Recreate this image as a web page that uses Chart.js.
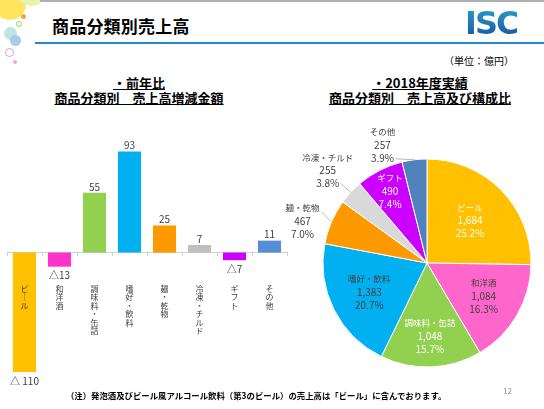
<!DOCTYPE html>
<html>
<head>
<meta charset="utf-8">
<script src="https://cdn.jsdelivr.net/npm/chart.js@4.4.0/dist/chart.umd.min.js"></script>
<style>
body { margin: 0; width: 544px; height: 409px; position: relative; overflow: hidden; background: #fff; font-family: "Noto Sans CJK JP", sans-serif; color: #000; }
.abs { position: absolute; }
.dot { position: absolute; border-radius: 50%; }
.topline { left: 40px; top: 0; width: 504px; height: 2px; background: #b0b0b0; }
.blueline { left: 35px; top: 42px; width: 509px; height: 2px; background: #1e88d4; }
.title { left: 52px; top: 13px; font-size: 17px; font-weight: bold; letter-spacing: 0.2px; }
.logo { left: 465px; top: 4px; font-family: "DejaVu Sans", sans-serif; font-size: 32px; font-weight: bold; letter-spacing: -2px;
  background: linear-gradient(#27a7c9, #1a4b9c); -webkit-background-clip: text; background-clip: text; color: transparent; }
.unit { left: 444px; top: 53px; font-size: 10px; }
.sub { font-size: 13px; font-weight: bold; text-align: center; line-height: 15px; text-decoration: underline; white-space: pre; }
.note { left: 66px; top: 389px; font-size: 8.4px; font-weight: bold; white-space: nowrap; }
.page { left: 503px; top: 385px; font-size: 8px; color: #8a8a8a; }
canvas { position: absolute; }
</style>
</head>
<body>
<div class="dot" style="left:-6px;top:-12px;width:32px;height:32px;background:#ffe14d;opacity:0.9"></div>
<div class="dot" style="left:18px;top:-14px;width:26px;height:20px;background:#e6f3a8"></div>
<div class="dot" style="left:21px;top:14px;width:5px;height:5px;background:#f6a93b"></div>
<div class="dot" style="left:16px;top:21px;width:4px;height:4px;border:1px solid #9bd06a"></div>
<div class="dot" style="left:4px;top:27px;width:13px;height:13px;background:#bfe6e2"></div>
<div class="dot" style="left:10px;top:35px;width:11px;height:11px;background:#a9c9ef"></div>
<div class="dot" style="left:5px;top:48px;width:7px;height:7px;border:1px solid #c6a9e6"></div>
<div class="dot" style="left:13px;top:60px;width:4px;height:4px;background:#f2a6d0"></div>
<div class="abs topline"></div>
<div class="abs title">商品分類別売上高</div>
<div class="abs logo">ISC</div>
<div class="abs blueline"></div>
<div class="abs unit">（単位：億円）</div>

<div class="abs sub" style="left:36px;top:75px;width:206px">・前年比
商品分類別　売上高増減金額</div>
<div class="abs sub" style="left:316px;top:75px;width:208px">・2018年度実績
商品分類別　売上高及び構成比</div>

<canvas id="barChart" width="292" height="300" style="left:0;top:100px"></canvas>
<canvas id="pieChart" width="274" height="270" style="left:270px;top:110px"></canvas>

<div class="abs note">（注）発泡酒及びビール風アルコール飲料（第3のビール）の売上高は「ビール」に含んでおります。</div>
<div class="abs page">12</div>

<script>
// 商品分類
const categories = ['ビール', '和洋酒', '調味料・缶詰', '嗜好・飲料', '麺・乾物', '冷凍・チルド', 'ギフト', 'その他'];
// 前年比 増減金額（億円）
const changeValues = [-110, -13, 55, 93, 25, 7, -7, 11];
// 2018年度 売上高（億円）
const salesValues = [1684, 1084, 1048, 1383, 467, 255, 490, 257];
// 構成比
const shareLabels = ['25.2%', '16.3%', '15.7%', '20.7%', '7.0%', '3.8%', '7.4%', '3.9%'];

const barColors = ['#ffc000', '#ff33cc', '#92d050', '#00b0f0', '#ff9900', '#bfbfbf', '#cc00ff', '#558ed5'];
const pieColors = ['#ffc000', '#ff66cc', '#92d050', '#00b0f0', '#ff9900', '#d9d9d9', '#cc00ff', '#4f81bd'];

const jpFont = '"Noto Sans CJK JP", sans-serif';

// 縦書きラベル（1文字ずつ改行）
function toVertical(name) {
    return name.split('').map(c => c === 'ー' ? '｜' : c);
}

function fmtChange(v) {
    if (v >= 0) return String(v);
    return (v <= -100 ? '△ ' : '△') + Math.abs(v);
}

const barLabels = {
    id: 'barLabels',
    afterDatasetsDraw(chart) {
        const ctx = chart.ctx;
        const meta = chart.getDatasetMeta(0);
        ctx.save();
        ctx.font = '10px ' + jpFont;
        ctx.fillStyle = '#404040';
        ctx.textAlign = 'center';
        ctx.textBaseline = 'middle';
        meta.data.forEach((bar, i) => {
            const v = changeValues[i];
            const y = v >= 0 ? bar.y - 6 : bar.y + 9;
            ctx.fillText(fmtChange(v), bar.x, y);
        });
        ctx.restore();
    }
};

new Chart(document.getElementById('barChart').getContext('2d'), {
    type: 'bar',
    data: {
        labels: categories.map(toVertical),
        datasets: [{
            data: changeValues,
            backgroundColor: barColors,
            borderWidth: 0,
            categoryPercentage: 1,
            barPercentage: 0.66
        }]
    },
    options: {
        responsive: false,
        animation: false,
        events: [],
        layout: { padding: { left: 7, right: 5, top: 44, bottom: 28 } },
        plugins: {
            legend: { display: false },
            tooltip: { enabled: false }
        },
        scales: {
            y: {
                display: false,
                min: -110,
                max: 100
            },
            x: {
                position: { y: 0 },
                afterFit: (scale) => {
                    scale.height = 0;
                    scale.paddingLeft = 0;
                    scale.paddingRight = 0;
                },
                grid: { display: true, drawOnChartArea: false, drawTicks: true, tickLength: 3, color: '#d0d0d0' },
                border: { display: true, color: '#d0d0d0', width: 1 },
                ticks: {
                    z: 1,
                    padding: 29,
                    color: '#404040',
                    autoSkip: false,
                    maxRotation: 0,
                    font: { family: jpFont, size: 8, lineHeight: 1.06 }
                }
            }
        }
    },
    plugins: [barLabels]
});

// 円グラフのラベル配置（内側: 半径比 / 外側: 外周からのずれ）
const pieLabelStyle = [
    { inside: true, f: 0.58, color: '#ffffff' },
    { inside: true, f: 0.63, color: '#404040' },
    { inside: true, f: 0.70, color: '#ffffff' },
    { inside: true, f: 0.62, color: '#404040' },
    { inside: false, dx: -29, dy: -1, lx: -10, ly: -10 },
    { inside: false, dx: -23, dy: -22, lx: -10, ly: -9 },
    { inside: true, f: 0.78, color: '#ffffff' },
    { inside: false, dx: -32, dy: -15, lx: -19, ly: -1 }
];

const pieLabels = {
    id: 'pieLabels',
    afterDatasetsDraw(chart) {
        const ctx = chart.ctx;
        const meta = chart.getDatasetMeta(0);
        ctx.save();
        ctx.textAlign = 'center';
        ctx.textBaseline = 'middle';
        meta.data.forEach((arc, i) => {
            const st = pieLabelStyle[i];
            const mid = (arc.startAngle + arc.endAngle) / 2;
            const cx = Math.cos(mid), cy = Math.sin(mid);
            let px, py, color;
            if (st.inside) {
                px = arc.x + cx * arc.outerRadius * st.f;
                py = arc.y + cy * arc.outerRadius * st.f;
                color = st.color;
            } else {
                const ex = arc.x + cx * arc.outerRadius;
                const ey = arc.y + cy * arc.outerRadius;
                ctx.strokeStyle = '#a6a6a6';
                ctx.lineWidth = 0.8;
                ctx.beginPath();
                ctx.moveTo(ex, ey);
                ctx.lineTo(ex + st.lx, ey + st.ly);
                ctx.stroke();
                px = ex + st.dx;
                py = ey + st.dy;
                color = '#404040';
            }
            ctx.fillStyle = color;
            ctx.font = '8.5px ' + jpFont;
            ctx.fillText(categories[i], px, py - 13);
            ctx.font = '10px ' + jpFont;
            ctx.fillText(salesValues[i].toLocaleString('en-US'), px, py);
            ctx.fillText(shareLabels[i], px, py + 13);
        });
        ctx.restore();
    }
};

new Chart(document.getElementById('pieChart').getContext('2d'), {
    type: 'pie',
    data: {
        labels: categories,
        datasets: [{
            data: salesValues,
            backgroundColor: pieColors,
            borderColor: '#ffffff',
            borderWidth: 1
        }]
    },
    options: {
        responsive: false,
        animation: false,
        events: [],
        layout: { padding: { left: 52.5, right: 12.5, top: 48.5, bottom: 12.5 } },
        plugins: {
            legend: { display: false },
            tooltip: { enabled: false }
        }
    },
    plugins: [pieLabels]
});
</script>
</body>
</html>
